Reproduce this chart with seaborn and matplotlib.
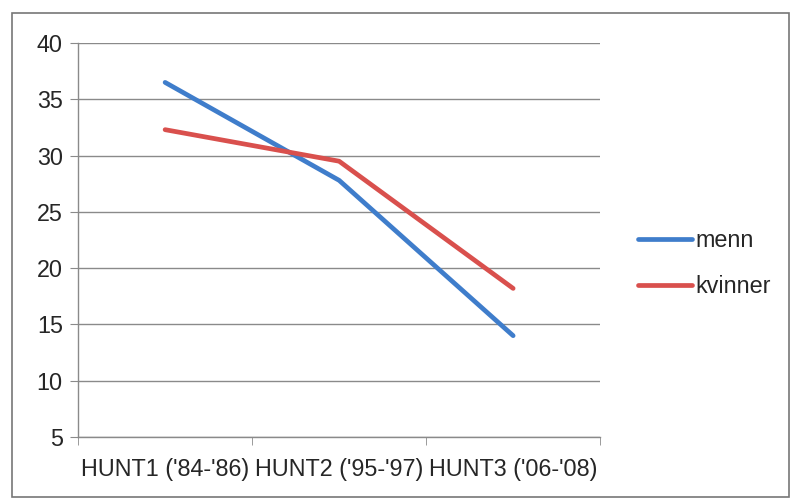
import pandas as pd
import matplotlib.pyplot as plt
import seaborn as sns
from matplotlib.patches import Rectangle

# Data
categories = ["HUNT1 ('84-'86)", "HUNT2 ('95-'97)", "HUNT3 ('06-'08)"]
menn = [36.5, 27.8, 14.0]
kvinner = [32.3, 29.5, 18.2]

sns.set_style("white")
plt.rcParams['font.family'] = ['Liberation Sans', 'DejaVu Sans']

df = pd.DataFrame({
    'HUNT': categories * 2,
    'verdi': menn + kvinner,
    'gruppe': ['menn'] * 3 + ['kvinner'] * 3,
})

fig = plt.figure(figsize=(7.97, 5.0), dpi=100)
ax = fig.add_axes([0.098, 0.126, 0.655, 0.788])

sns.lineplot(data=df, x='HUNT', y='verdi', hue='gruppe', ax=ax,
             palette={'menn': '#3F7DCB', 'kvinner': '#D9504D'},
             linewidth=3.4, sort=False)

grid_c = '#8a8a8a'
fs = 16.8
ax.set_xlim(-0.5, 2.5)
ax.set_ylim(5, 40)
ax.set_yticks(range(5, 41, 5))
ax.yaxis.grid(True, color=grid_c, linewidth=1)
ax.set_axisbelow(True)
ax.set_xlabel('')
ax.set_ylabel('')

# category boundary ticks on x axis
ax.set_xticks([0, 1, 2])
ax.set_xticks([-0.5, 0.5, 1.5, 2.5], minor=True)
ax.tick_params(axis='x', which='major', length=0, labelsize=fs, pad=15)
ax.tick_params(axis='x', which='minor', length=6, color=grid_c, direction='out', bottom=True)
ax.tick_params(axis='y', length=6, color=grid_c, direction='out', left=True, labelsize=fs, pad=5)

for side in ['top', 'right']:
    ax.spines[side].set_visible(False)
for side in ['left', 'bottom']:
    ax.spines[side].set_color(grid_c)
    ax.spines[side].set_linewidth(1)

ax.legend(loc='center left', bbox_to_anchor=(1.055, 0.44), frameon=False,
          fontsize=fs, handlelength=2.3, handletextpad=0.15, labelspacing=1.0,
          borderaxespad=0)

# outer chart frame
fig.patches.append(Rectangle((0.015, 0.006), 0.975, 0.968, transform=fig.transFigure,
                             fill=False, edgecolor='#777777', linewidth=1.2))

plt.savefig('out.png', dpi=100)
